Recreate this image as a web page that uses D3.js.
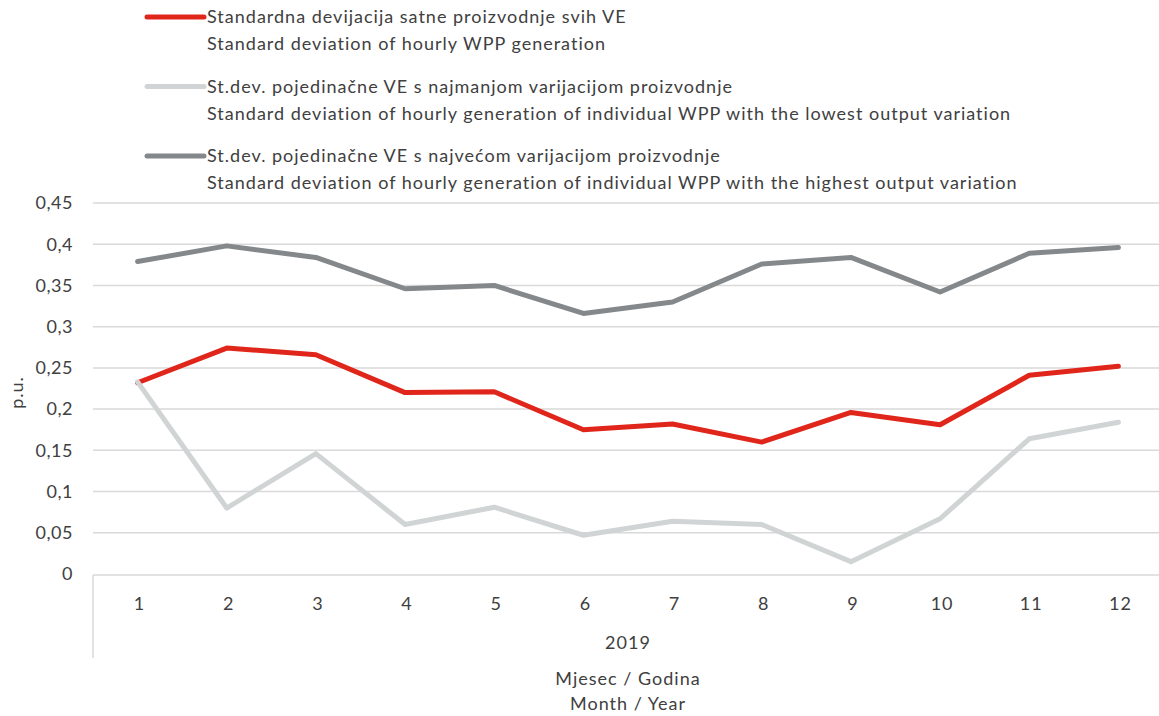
<!DOCTYPE html>
<html>
<head>
<meta charset="utf-8">
<script src="https://cdn.jsdelivr.net/npm/d3@7"></script>
<style>
  body { margin: 0; background: #fff; }
  svg text { font-family: Lato, "Open Sans", sans-serif; fill: #404040; }
</style>
</head>
<body>
<svg id="chart" width="1159" height="716"></svg>
<script>
// months of 2019
const months = ["1", "2", "3", "4", "5", "6", "7", "8", "9", "10", "11", "12"];
const yTicks = [0, 0.05, 0.1, 0.15, 0.2, 0.25, 0.3, 0.35, 0.4, 0.45];

// standard deviation of hourly generation, all WPP
const allWpp = [0.232, 0.274, 0.266, 0.220, 0.221, 0.175, 0.182, 0.160, 0.196, 0.181, 0.241, 0.252];
// individual WPP, lowest output variation
const lowestWpp = [0.233, 0.080, 0.146, 0.060, 0.081, 0.047, 0.064, 0.060, 0.015, 0.067, 0.164, 0.184];
// individual WPP, highest output variation
const highestWpp = [0.379, 0.398, 0.384, 0.346, 0.350, 0.316, 0.330, 0.376, 0.384, 0.342, 0.389, 0.396];

const seriesNames = [
  ["Standardna devijacija satne proizvodnje svih VE", "Standard deviation of hourly WPP generation"],
  ["St.dev. pojedinačne VE s najmanjom varijacijom proizvodnje", "Standard deviation of hourly generation of individual WPP with the lowest output variation"],
  ["St.dev. pojedinačne VE s najvećom varijacijom proizvodnje", "Standard deviation of hourly generation of individual WPP with the highest output variation"]
];
const seriesColors = ["#e0261b", "#d1d4d5", "#85888b"];

const series = [allWpp, lowestWpp, highestWpp].map((vals, i) => ({
  name: seriesNames[i],
  color: seriesColors[i],
  values: vals
}));

const svg = d3.select("#chart");
const plotL = 93, plotR = 1163, plotT = 203, plotB = 574;

const x = d3.scaleBand().domain(months).range([plotL, plotR]);
const y = d3.scaleLinear().domain([0, 0.45]).range([plotB, plotT]);

// gridlines
svg.append("g")
  .selectAll("line")
  .data(yTicks.filter(d => d > 0))
  .enter()
  .append("line")
  .attr("x1", plotL)
  .attr("x2", plotR)
  .attr("y1", d => y(d))
  .attr("y2", d => y(d))
  .attr("stroke", "#d9d9d9")
  .attr("stroke-width", 1.5);

// y axis labels
const fmt = d => String(d).replace(".", ",");
svg.append("g")
  .selectAll("text")
  .data(yTicks)
  .enter()
  .append("text")
  .attr("x", 73)
  .attr("y", d => y(d))
  .attr("dy", "0.35em")
  .attr("text-anchor", "end")
  .style("font-size", "18px")
  .style("letter-spacing", "0.5px")
  .text(fmt);

svg.append("text")
  .attr("transform", `translate(23, ${(plotT + plotB) / 2 + 4}) rotate(-90)`)
  .attr("text-anchor", "middle")
  .style("font-size", "18px")
  .style("letter-spacing", "1px")
  .text("p.u.");

// category axis (two levels)
svg.append("line")
  .attr("x1", plotL).attr("x2", plotR)
  .attr("y1", plotB + 1).attr("y2", plotB + 1)
  .attr("stroke", "#d9d9d9").attr("stroke-width", 1.5);
svg.append("line")
  .attr("x1", plotL).attr("x2", plotL)
  .attr("y1", plotB + 1).attr("y2", 658)
  .attr("stroke", "#d9d9d9").attr("stroke-width", 1.5);

svg.append("g")
  .selectAll("text")
  .data(months)
  .enter()
  .append("text")
  .attr("x", d => x(d) + x.bandwidth() / 2 + 2)
  .attr("y", 604)
  .attr("dy", "0.35em")
  .attr("text-anchor", "middle")
  .style("font-size", "18px")
  .style("letter-spacing", "1px")
  .text(d => d);

svg.append("text")
  .attr("x", (plotL + plotR) / 2 - 0)
  .attr("y", 643)
  .attr("dy", "0.35em")
  .attr("text-anchor", "middle")
  .style("font-size", "18px")
  .style("letter-spacing", "1px")
  .text("2019");

const titleLines = ["Mjesec / Godina", "Month / Year"];
svg.append("g")
  .selectAll("text")
  .data(titleLines)
  .enter()
  .append("text")
  .attr("x", 628)
  .attr("y", (d, i) => 679 + i * 25)
  .attr("dy", "0.35em")
  .attr("text-anchor", "middle")
  .style("font-size", "18px")
  .style("letter-spacing", "1px")
  .text(d => d);

// lines
const line = d3.line()
  .x((d, i) => x(months[i]) + x.bandwidth() / 2)
  .y(d => y(d));

svg.append("g")
  .selectAll("path")
  .data(series)
  .enter()
  .append("path")
  .attr("d", d => line(d.values))
  .attr("fill", "none")
  .attr("stroke", d => d.color)
  .attr("stroke-width", 5)
  .attr("stroke-linejoin", "round")
  .attr("stroke-linecap", "round");

// legend
const legend = svg.append("g")
  .selectAll("g")
  .data(series)
  .enter()
  .append("g")
  .attr("transform", (d, i) => `translate(0, ${17 + i * 69.5})`);

legend.append("line")
  .attr("x1", 147).attr("x2", 204)
  .attr("stroke", d => d.color)
  .attr("stroke-width", 5)
  .attr("stroke-linecap", "round");

legend.append("text")
  .attr("x", 207)
  .attr("dy", "0.35em")
  .style("font-size", "18px")
  .style("letter-spacing", "1px")
  .text(d => d.name[0]);
legend.append("text")
  .attr("x", 207)
  .attr("y", 27)
  .attr("dy", "0.35em")
  .style("font-size", "18px")
  .style("letter-spacing", "1px")
  .text(d => d.name[1]);
</script>
</body>
</html>
